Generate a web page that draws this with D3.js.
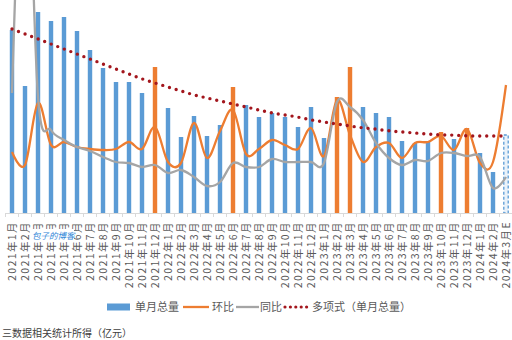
<!DOCTYPE html>
<html>
<head>
<meta charset="utf-8">
<script src="https://cdn.jsdelivr.net/npm/d3@7"></script>
<style>
	html, body { margin: 0; padding: 0; background: #fff; }
	#chart { width: 512px; height: 340px; }
	text { font-family: "Noto Sans CJK SC", "Noto Sans", sans-serif; }
</style>
</head>
<body>
<div id="chart"></div>
<script>
'use strict';

var months = [
	'2021年1月','2021年2月','2021年3月','2021年4月','2021年5月','2021年6月',
	'2021年7月','2021年8月','2021年9月','2021年10月','2021年11月','2021年12月',
	'2022年1月','2022年2月','2022年3月','2022年4月','2022年5月','2022年6月',
	'2022年7月','2022年8月','2022年9月','2022年10月','2022年11月','2022年12月',
	'2023年1月','2023年2月','2023年3月','2023年4月','2023年5月','2023年6月',
	'2023年7月','2023年8月','2023年9月','2023年10月','2023年11月','2023年12月',
	'2024年1月','2024年2月','2024年3月E'
];

// 单月总量
var totals = [
	183, 127, 201, 192, 196, 182, 163, 145, 131, 131, 120, 146,
	105, 76, 97, 77, 88, 126, 108, 96, 100, 96, 86, 106,
	75, 116, 146, 106, 100, 96, 72, 70, 72, 81, 74, 85,
	60, 41, 78
];

// highlighted months (orange bars)
var highlight = ['2021年12月', '2022年6月', '2023年2月', '2023年3月', '2023年10月', '2023年12月'];

// 环比
var mom = [
	0.11, -0.02, 0.60, 0.18, 0.21, 0.16, 0.14, 0.13, 0.14, 0.21, 0.14, 0.36,
	0.01, 0.00, 0.40, 0.05, 0.32, 0.53, 0.09, 0.14, 0.23, 0.18, 0.14, 0.35,
	0.07, 0.63, 0.28, 0.01, 0.16, 0.20, 0.05, 0.20, 0.21, 0.27, 0.13, 0.34,
	0.00, 0.01, 0.78
];

// 同比
var yoy = [
	0.70, 3.63, 0.66, 0.33, 0.23, 0.16, 0.12, 0.06, 0.01, 0.00, -0.04, -0.02,
	-0.10, -0.07, -0.14, -0.23, -0.19, 0.00, -0.04, -0.04, 0.04, 0.01, 0.01, 0.01,
	0.00, 0.61, 0.56, 0.43, 0.20, 0.05, -0.02, 0.03, 0.02, 0.10, 0.10, 0.07,
	0.06, -0.25, -0.14
];

// 多项式(单月总量)
var trend = [
	184, 179, 174, 169, 164, 159, 154, 149, 144, 139, 134, 130,
	126, 122, 118, 115, 112, 109, 106, 103, 100, 98, 96, 93,
	91, 89, 87, 85, 84, 82, 81, 80, 79, 78, 78, 77,
	77, 77, 77
];

var legendItems = ['单月总量', '环比', '同比', '多项式（单月总量）'];

var COLORS = {
	BAR: '#5b9bd5',
	MOM: '#ed7d31',
	YOY: '#a5a5a5',
	TREND: '#a3161d',
	TEXT: '#595959',
	AXIS: '#d9d9d9'
};

var width = 512;
var height = 340;
var baseY = 213;

var svg = d3.select('#chart').append('svg')
	.attr('width', width)
	.attr('height', height);

var x = d3.scaleBand()
	.domain(months)
	.range([5.5, 512.5])
	.paddingInner(0.66)
	.paddingOuter(0.33);

var y = d3.scaleLinear()
	.domain([0, 200])
	.range([baseY, 13]);

var y2 = d3.scaleLinear()
	.domain([0, 1])
	.range([163, 63]);

var cx = function(d, i) { return x(months[i]) + x.bandwidth() / 2; };

// bars
svg.append('g')
	.attr('class', 'bars')
	.selectAll('rect')
	.data(totals)
	.enter()
	.append('rect')
		.attr('x', function(d, i) { return x(months[i]); })
		.attr('y', function(d) { return y(d); })
		.attr('width', x.bandwidth())
		.attr('height', function(d) { return baseY - y(d); })
		.attr('fill', function(d, i) {
			if (i === months.length - 1) return '#eaf2fa';
			return highlight.indexOf(months[i]) >= 0 ? COLORS.MOM : COLORS.BAR;
		})
		.attr('stroke', function(d, i) { return i === months.length - 1 ? COLORS.BAR : 'none'; })
		.attr('stroke-width', 1.3)
		.attr('stroke-dasharray', '3,2');

// x axis
var xAxis = d3.axisBottom(x)
	.tickSize(0)
	.tickPadding(6);

var axisG = svg.append('g')
	.attr('transform', 'translate(0,' + baseY + ')')
	.call(xAxis);

axisG.select('.domain').attr('stroke', COLORS.AXIS);

axisG.selectAll('.tick text')
	.attr('fill', COLORS.TEXT)
	.attr('font-size', '10.5px')
	.attr('letter-spacing', '1.4px')
	.attr('text-anchor', 'end')
	.attr('transform', 'rotate(-90)')
	.attr('x', -8)
	.attr('y', 0)
	.attr('dy', '0.36em');

// small ticks between categories
svg.append('g')
	.selectAll('line')
	.data(months)
	.enter()
	.append('line')
		.attr('x1', function(d) { return x(d) - x.step() * x.paddingInner() / 2; })
		.attr('x2', function(d) { return x(d) - x.step() * x.paddingInner() / 2; })
		.attr('y1', baseY)
		.attr('y2', baseY + 4)
		.attr('stroke', COLORS.AXIS);

var smooth = d3.curveCardinal.tension(0);

// 环比
svg.append('path')
	.datum(mom)
	.attr('fill', 'none')
	.attr('stroke', COLORS.MOM)
	.attr('stroke-width', 2.3)
	.attr('d', d3.line().x(cx).y(function(d) { return y2(d); }).curve(smooth));

// 同比
svg.append('path')
	.datum(yoy)
	.attr('fill', 'none')
	.attr('stroke', COLORS.YOY)
	.attr('stroke-width', 2.3)
	.attr('d', d3.line().x(cx).y(function(d) { return y2(d); }).curve(smooth));

// polynomial trend
svg.append('path')
	.datum(trend)
	.attr('fill', 'none')
	.attr('stroke', COLORS.TREND)
	.attr('stroke-width', 3.4)
	.attr('stroke-linecap', 'round')
	.attr('stroke-dasharray', '0,7')
	.attr('d', d3.line().x(cx).y(function(d) { return y(d); }).curve(d3.curveBasis));

// watermark over the labels
var wm = svg.append('g').attr('transform', 'translate(30,229)');
wm.append('rect')
	.attr('width', 44)
	.attr('height', 13)
	.attr('fill', '#fff');
wm.append('text')
	.attr('x', 2)
	.attr('y', 10)
	.attr('font-size', '8.5px')
	.attr('font-style', 'italic')
	.attr('fill', '#2f86d8')
	.text('包子的博客');

// legend
var legend = svg.append('g').attr('class', 'legend');
var ly = 307;

legend.append('rect')
	.attr('x', 107).attr('y', ly - 3.5)
	.attr('width', 23).attr('height', 7)
	.attr('fill', COLORS.BAR);
legend.append('line')
	.attr('x1', 183).attr('x2', 209).attr('y1', ly).attr('y2', ly)
	.attr('stroke', COLORS.MOM).attr('stroke-width', 2.3);
legend.append('line')
	.attr('x1', 236).attr('x2', 259).attr('y1', ly).attr('y2', ly)
	.attr('stroke', COLORS.YOY).attr('stroke-width', 2.3);
legend.append('line')
	.attr('x1', 285).attr('x2', 307).attr('y1', ly).attr('y2', ly)
	.attr('stroke', COLORS.TREND).attr('stroke-width', 3.2)
	.attr('stroke-linecap', 'round')
	.attr('stroke-dasharray', '0,5.4');

var labelX = [135, 212, 260, 312];
legend.selectAll('text.lbl')
	.data(legendItems)
	.enter()
	.append('text')
		.attr('class', 'lbl')
		.attr('x', function(d, i) { return labelX[i]; })
		.attr('y', ly)
		.attr('dy', '0.36em')
		.attr('font-size', '11px')
		.attr('fill', COLORS.TEXT)
		.text(function(d) { return d; });

// caption at the bottom edge
svg.append('text')
	.attr('x', 2)
	.attr('y', 337)
	.attr('font-size', '10px')
	.attr('fill', '#404040')
	.text('三数据相关统计所得（亿元）');
</script>
</body>
</html>
